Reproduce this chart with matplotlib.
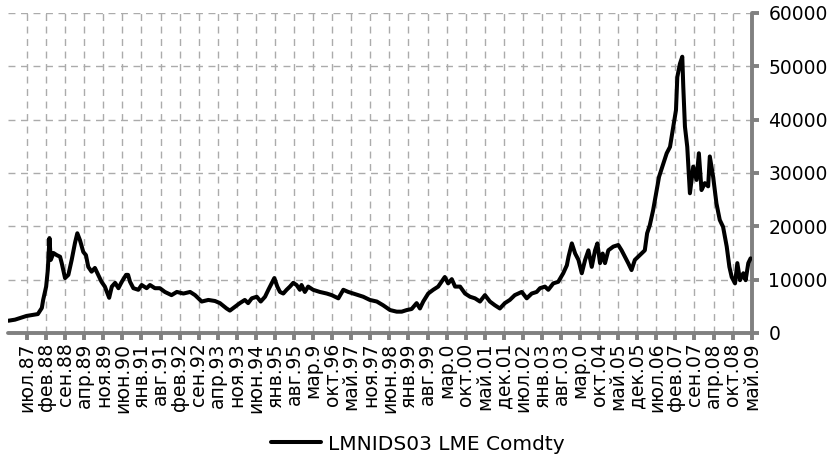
import matplotlib
matplotlib.use("Agg")
import matplotlib.pyplot as plt
import numpy as np

# ---- data (decimal year, LME nickel price) ----
years = [1986.97, 1987.17, 1987.32, 1987.52, 1987.71, 1987.86, 1987.98, 1988.02, 1988.11, 1988.16,
         1988.21, 1988.25, 1988.33, 1988.43, 1988.53, 1988.58, 1988.68, 1988.78, 1988.88, 1988.98,
         1989.05, 1989.13, 1989.23, 1989.31, 1989.38, 1989.48, 1989.58, 1989.68, 1989.78, 1989.88,
         1990.01, 1990.09, 1990.19, 1990.29, 1990.39, 1990.52, 1990.58, 1990.64, 1990.74, 1990.89,
         1990.99, 1991.14, 1991.24, 1991.39, 1991.54, 1991.69, 1991.89, 1992.05, 1992.25, 1992.45,
         1992.60, 1992.75, 1992.80, 1993.00, 1993.20, 1993.35, 1993.55, 1993.65, 1993.80, 1993.95,
         1994.10, 1994.20, 1994.31, 1994.46, 1994.58, 1994.71, 1994.81, 1994.91, 1994.99, 1995.08,
         1995.16, 1995.26, 1995.36, 1995.46, 1995.56, 1995.66, 1995.76, 1995.81, 1995.91, 1996.01,
         1996.16, 1996.36, 1996.57, 1996.72, 1996.92, 1997.07, 1997.22, 1997.37, 1997.52, 1997.67,
         1997.87, 1998.08, 1998.27, 1998.48, 1998.68, 1998.83, 1998.98, 1999.13, 1999.28, 1999.38,
         1999.48, 1999.63, 1999.78, 1999.93, 2000.03, 2000.13, 2000.23, 2000.34, 2000.44, 2000.59,
         2000.74, 2000.89, 2001.04, 2001.19, 2001.34, 2001.49, 2001.64, 2001.79, 2001.94, 2002.09,
         2002.24, 2002.45, 2002.60, 2002.75, 2002.90, 2003.00, 2003.15, 2003.25, 2003.40, 2003.55,
         2003.70, 2003.81, 2003.86, 2003.96, 2004.06, 2004.16, 2004.26, 2004.36, 2004.46, 2004.56,
         2004.66, 2004.73, 2004.81, 2004.89, 2004.96, 2005.06, 2005.21, 2005.36, 2005.46, 2005.56,
         2005.66, 2005.76, 2005.86, 2005.96, 2006.06, 2006.16, 2006.23, 2006.31, 2006.41, 2006.50,
         2006.59, 2006.72, 2006.82, 2006.92, 2007.02, 2007.10, 2007.14, 2007.22, 2007.29, 2007.32,
         2007.37, 2007.44, 2007.52, 2007.62, 2007.72, 2007.79, 2007.87, 2007.97, 2008.07, 2008.12,
         2008.22, 2008.32, 2008.42, 2008.52, 2008.63, 2008.71, 2008.78, 2008.88, 2008.95, 2009.03,
         2009.13, 2009.20, 2009.28, 2009.35]
prices = [2300, 2500, 2800, 3200, 3400, 3550, 4700, 6200, 8700, 11800,
          17800, 13700, 15000, 14600, 14300, 13100, 10300, 10900, 13700, 16900,
          18700, 17400, 15200, 14600, 12400, 11500, 12200, 10900, 9600, 8700,
          6600, 8700, 9400, 8400, 9600, 10900, 10900, 9600, 8400, 8100,
          9000, 8400, 9000, 8400, 8400, 7700, 7100, 7700, 7400, 7700,
          7100, 6200, 5900, 6200, 6000, 5600, 4600, 4200, 4900, 5600,
          6200, 5600, 6500, 6800, 5900, 6800, 8100, 9300, 10300, 8700,
          7700, 7400, 8100, 8700, 9400, 9000, 8100, 9000, 7700, 8700,
          8100, 7700, 7400, 7100, 6500, 8100, 7700, 7400, 7100, 6800,
          6200, 5900, 5200, 4300, 4000, 4000, 4300, 4500, 5600, 4600,
          5900, 7400, 8100, 8700, 9600, 10500, 9300, 10100, 8700, 8700,
          7400, 6800, 6500, 5900, 7100, 5900, 5200, 4600, 5600, 6200,
          7100, 7700, 6500, 7400, 7700, 8400, 8700, 8100, 9300, 9600,
          11200, 12700, 14300, 16800, 14900, 13700, 11200, 13700, 15500, 12400,
          15500, 16800, 13100, 14900, 13100, 15500, 16200, 16500, 15500, 14300,
          13100, 11800, 13700, 14300, 14900, 15500, 18700, 20200, 23000, 26200,
          29300, 31800, 33700, 34900, 38700, 41800, 48000, 50500, 51800, 46200,
          38700, 34900, 26200, 31200, 28700, 33700, 26800, 28100, 27500, 33100,
          29300, 24300, 21200, 19900, 16200, 12400, 10500, 9300, 13100, 9900,
          11200, 9900, 13100, 14000]

tick_labels = ["июл.87", "фев.88", "сен.88", "апр.89", "ноя.89", "июн.90", "янв.91", "авг.91",
               "фев.92", "сен.92", "апр.93", "ноя.93", "июн.94", "янв.95", "авг.95", "мар.9",
               "окт.96", "май.97", "ноя.97", "июн.98", "янв.99", "авг.99", "мар.0", "окт.00",
               "май.01", "дек.01", "июл.02", "янв.03", "авг.03", "мар.0", "окт.04", "май.05",
               "дек.05", "июл.06", "фев.07", "сен.07", "апр.08", "окт.08", "май.09"]
series_name = "LMNIDS03 LME Comdty"

# ---- layout ----
x_start = 1986.96
step = 30 * 7 / 365.25          # 30-week label interval
tick_pos = [x_start + step * (k + 1) for k in range(len(tick_labels))]
x_end = tick_pos[-1]

fig = plt.figure(figsize=(8.32, 4.59), dpi=100)
ax = fig.add_axes([8 / 832, 1 - 333 / 459, (751.7 - 8) / 832, (333 - 13) / 459])

grey = "#808080"
line, = ax.plot(years, prices, color="black", lw=2.9, solid_joinstyle="round",
                solid_capstyle="round", label=series_name, zorder=3)

ax.set_xlim(x_start, x_end)
ax.set_ylim(0, 60000)
ax.set_yticks(np.arange(0, 60001, 10000))
ax.set_xticks(tick_pos)
ax.set_xticklabels(tick_labels, rotation=90, ha="center", va="top",
                   fontsize=13.5, family="DejaVu Sans")

ax.yaxis.tick_right()
for lab in ax.get_yticklabels():
    lab.set_fontsize(13.5)
    lab.set_family("DejaVu Sans")

ax.grid(True, color="#ABABAB", lw=1.0, linestyle=(0, (5, 4)))
ax.set_axisbelow(True)

for s in ["left", "top"]:
    ax.spines[s].set_visible(False)
for s in ["right", "bottom"]:
    ax.spines[s].set_color(grey)
    ax.spines[s].set_linewidth(2.8)
    ax.spines[s].set_capstyle("round")

ax.tick_params(axis="y", which="both", direction="out", length=5, width=2.8,
               color=grey, pad=7, right=True, left=False)
ax.tick_params(axis="x", which="both", direction="out", length=5, width=2.8,
               color=grey, pad=2)

fig.legend(handles=[line], labels=[series_name], loc="center",
           bbox_to_anchor=(0.502, 1 - 444 / 459), frameon=False,
           handlelength=2.5, handletextpad=0.35,
           prop={"family": "DejaVu Sans", "size": 14.5})

fig.savefig("out.png", dpi=100)
